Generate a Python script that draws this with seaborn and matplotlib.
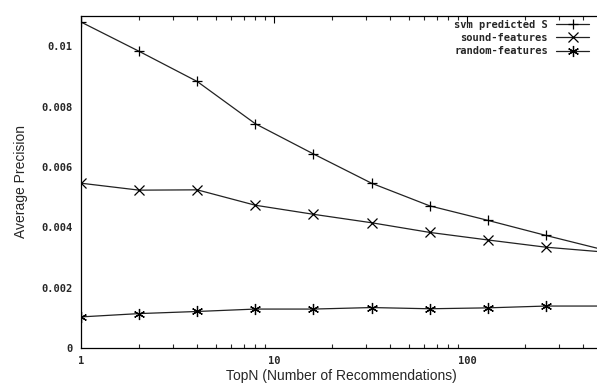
import matplotlib
matplotlib.use("Agg")
import matplotlib.pyplot as plt
import seaborn as sns
import pandas as pd
from matplotlib.ticker import LogLocator, NullFormatter

topn = [1, 2, 4, 8, 16, 32, 64, 128, 256, 512]
svm_predicted = [0.0108, 0.00983, 0.00883, 0.00743, 0.00643, 0.00546, 0.00471, 0.00423, 0.00373, 0.00325]
sound_features = [0.00546, 0.00523, 0.00524, 0.00473, 0.00443, 0.00415, 0.00383, 0.00358, 0.00334, 0.00318]
random_features = [0.00103, 0.00114, 0.00121, 0.00129, 0.00129, 0.00134, 0.00130, 0.00133, 0.00139, 0.00139]
labels = ["svm predicted S", "sound-features", "random-features"]
ytick_vals = [0, 0.002, 0.004, 0.006, 0.008, 0.01]
ytick_labels = ["0", "0.002", "0.004", "0.006", "0.008", "0.01"]
xtick_vals = [1, 10, 100]
xtick_labels = ["1", "10", "100"]

sns.set_style("white")
fig = plt.figure(figsize=(5.97, 3.87), dpi=100)
ax = fig.add_axes([81 / 597, (387 - 348) / 387, 521 / 597, (348 - 16) / 387])

asterisk = (6, 2, 0)
series = [(svm_predicted, "+", 7.5), (sound_features, "x", 6.5), (random_features, asterisk, 8)]
marks = list(range(9))
for (vals, mk, ms), lab in zip(series, labels):
    df = pd.DataFrame({"TopN": topn, "AP": vals})
    sns.lineplot(data=df, x="TopN", y="AP", ax=ax, color="#222222", lw=0.9,
                 marker=mk, markersize=ms, markeredgewidth=0.9, markeredgecolor="black",
                 markevery=marks, label=lab)

ax.set_xscale("log")
ax.set_xlim(1, 500)
ax.set_ylim(0, 0.011)

mono = {"family": "DejaVu Sans Mono", "weight": "bold", "size": 7.5}
ax.set_xticks(xtick_vals)
ax.set_xticklabels(xtick_labels, fontdict=mono)
ax.xaxis.set_minor_locator(LogLocator(base=10, subs=[2, 3, 4, 5, 6, 7, 8, 9]))
ax.xaxis.set_minor_formatter(NullFormatter())
ax.set_yticks(ytick_vals)
ax.set_yticklabels(ytick_labels, fontdict=mono)

ax.tick_params(axis="both", which="major", direction="in", length=5, width=0.8,
               top=True, right=False, color="black")
ax.tick_params(axis="x", which="minor", direction="in", length=3, width=0.8, top=True, bottom=True)
ax.tick_params(axis="x", which="major", pad=6)
ax.tick_params(axis="y", which="major", pad=6)

for s in ax.spines.values():
    s.set_color("black")
    s.set_linewidth(0.9)

ax.set_xlabel("TopN (Number of Recommendations)", family="Liberation Sans", fontsize=10, labelpad=2)
ax.set_ylabel("Average Precision", family="Liberation Sans", fontsize=10, labelpad=10)

leg = ax.legend(loc="upper right", markerfirst=False, frameon=False,
                prop={"family": "DejaVu Sans Mono", "weight": "bold", "size": 7.5},
                handlelength=3.2, labelspacing=0.3, borderaxespad=0.3, handletextpad=0.8,
                bbox_to_anchor=(0.99, 1.01))
for t in leg.get_texts():
    t.set_ha("right")
leg._legend_box.align = "right"

fig.savefig("out.png", dpi=100)
